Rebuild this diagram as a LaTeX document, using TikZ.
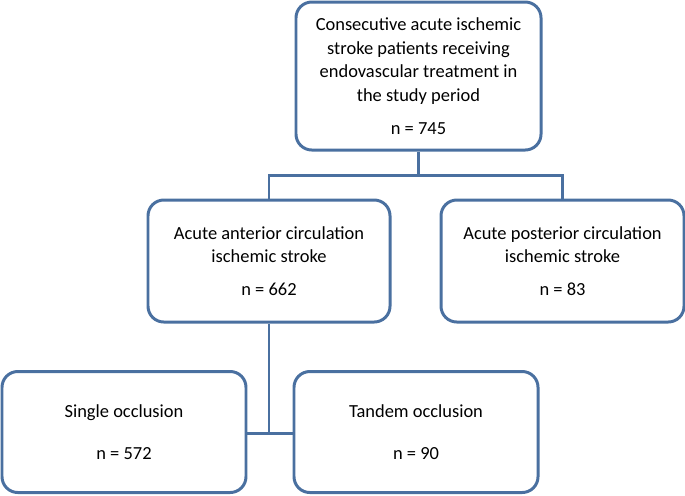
\documentclass[tikz,border=0pt]{standalone}
\usepackage{fontspec}
\setmainfont{Carlito}
\usetikzlibrary{positioning}
\definecolor{boxline}{RGB}{74,112,160}

\begin{document}
\begin{tikzpicture}[x=0.02cm,y=-0.02cm,% one unit is one pixel of the reference
			every node/.style={
				align=center,		% so that "\\" breaks lines
				font=\fontsize{10.5}{13.5}\selectfont
			},
			box/.style={rectangle,rounded corners=9pt,line width=1.7pt,draw=boxline,fill=white,inner sep=2pt},
			link/.style={draw=boxline,line width=1.7pt}
		]
		\useasboundingbox (0,0) rectangle (685,495);
		\node[box,minimum width=245*0.02cm,minimum height=148*0.02cm](Top) at (418.5,76){Consecutive acute ischemic\\ stroke patients receiving\\ endovascular treatment in\\ the study period\\[5pt] n = 745};
		\node[box,minimum width=242*0.02cm,minimum height=122*0.02cm](Ant) at (269,261){Acute anterior circulation\\ ischemic stroke\\[5pt] n = 662};
		\node[box,minimum width=243*0.02cm,minimum height=122*0.02cm](Post) at (562.5,261){Acute posterior circulation\\ ischemic stroke\\[5pt] n = 83};
		\node[box,minimum width=244*0.02cm,minimum height=121*0.02cm](Single) at (124,432){Single occlusion\\[10pt] n = 572};
		\node[box,minimum width=244*0.02cm,minimum height=121*0.02cm](Tandem) at (416,432){Tandem occlusion\\[10pt] n = 90};
		\coordinate (Split) at (418.5,175);
		\coordinate (Join) at (269,433);
		\path[link]
		(Top.south) -- (Split)
		(Ant.north) |- (Split) -| (Post.north)
		(Ant.south) -- (Join)
		(Single.east |- Join) -- (Tandem.west |- Join)
		;
	\end{tikzpicture}
\end{document}
